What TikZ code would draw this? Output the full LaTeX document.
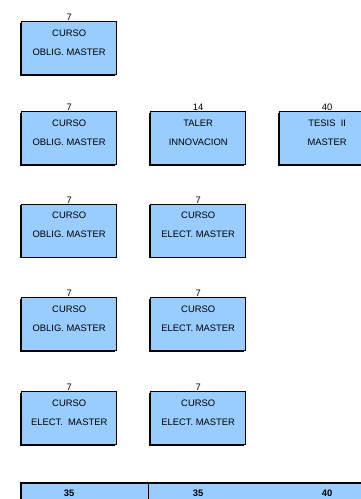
\documentclass[tikz,border=0pt]{standalone}
\usepackage{fontspec}
\setmainfont{Liberation Sans}
\usetikzlibrary{positioning,shadows}
\definecolor{boxblue}{RGB}{153,204,255}
\tikzset{
  course/.style={rectangle, draw=black, line width=1pt, fill=boxblue, minimum width=95pt, minimum height=53pt, inner sep=0pt, align=center, text height=33.5pt, text depth=19.5pt, font=\fontsize{9.4}{19}\selectfont, drop shadow={shadow xshift=-1.3pt, shadow yshift=-1.3pt, fill=black, opacity=1}, label distance=6pt},
  credits/.style={font=\fontsize{9.4}{11}\selectfont, inner sep=0pt},
  total/.style={rectangle, fill=boxblue, minimum width=345pt, minimum height=20pt, inner sep=0pt},
  sum/.style={font=\bfseries\fontsize{9.4}{11}\selectfont, inner sep=0pt}
}

\begin{document}
\begin{tikzpicture}[x=1pt, y=-1pt, node distance=33pt]
  \useasboundingbox (0,0) rectangle (360,499);

  % first row
  \node[course, label={[credits]above:7}] (a1) at (69.2,48) {CURSO\\OBLIG. MASTER};

  % second row
  \node[course, label={[credits]above:7}] (b1) at (69.2,138) {CURSO\\OBLIG. MASTER};
  \node[course, label={[credits]above:14}] (b2) [right=of b1] {TALER\\INNOVACION};
  \node[course, label={[credits]above:40}] (b3) [right=of b2] {TESIS~~II\\MASTER};

  % third row
  \node[course, label={[credits]above:7}] (c1) at (69.2,230.5) {CURSO\\OBLIG. MASTER};
  \node[course, label={[credits]above:7}] (c2) [right=of c1] {CURSO\\ELECT. MASTER};

  % fourth row
  \node[course, label={[credits]above:7}] (d1) at (69.2,324) {CURSO\\OBLIG. MASTER};
  \node[course, label={[credits]above:7}] (d2) [right=of d1] {CURSO\\ELECT. MASTER};

  % fifth row
  \node[course, label={[credits]above:7}] (e1) at (69.2,418) {CURSO\\ELECT.~~MASTER};
  \node[course, label={[credits]above:7}] (e2) [right=of e1] {CURSO\\ELECT. MASTER};

  % totals
  \node[total, anchor=north west] (bar) at (21,483) {};
  \coordinate (div) at (148,483);
  \draw[line width=2pt] (bar.south west) |- (bar.north east);
  \draw[line width=1pt] (div) -- (div |- bar.south);
  \node[sum] (s1) at ([yshift=-10pt]e1.center |- bar.north) {35};
  \node[sum] (s2) at ([yshift=-10pt]e2.center |- bar.north) {35};
  \node[sum] (s3) at ([yshift=-10pt]b3.center |- bar.north) {40};
\end{tikzpicture}
\end{document}
